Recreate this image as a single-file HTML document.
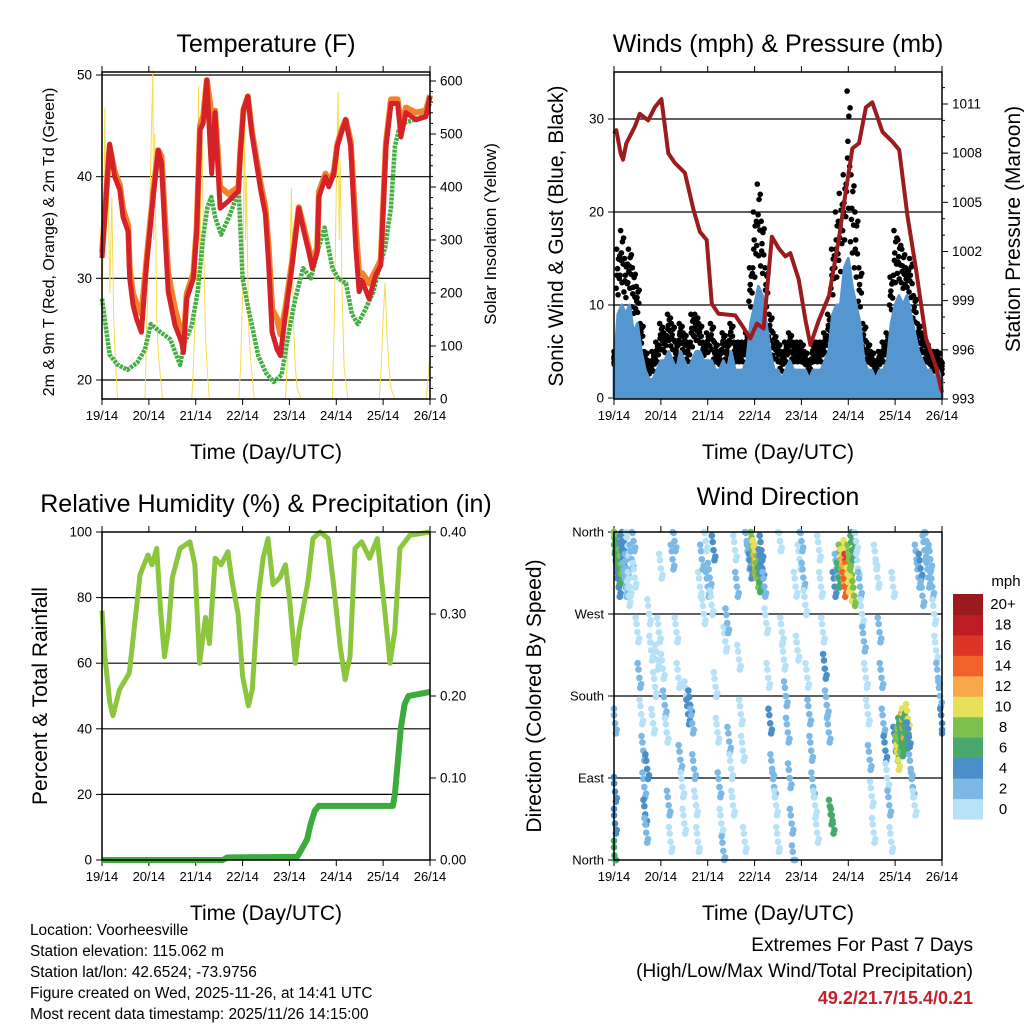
<!DOCTYPE html>
<html><head><meta charset="utf-8"><style>
body{margin:0;background:#fff}
svg{display:block;font-family:"Liberation Sans",sans-serif}
</style></head><body>
<svg id="s" width="1024" height="1024" viewBox="0 0 1024 1024" xmlns="http://www.w3.org/2000/svg">
<g id="g1"></g>
<g id="g2"></g>
<g id="g3"></g>
<g id="g4"></g>
<g id="txt" font-size="15.4" fill="#000">
<text x="30" y="935">Location: Voorheesville</text>
<text x="30" y="956">Station elevation: 115.062 m</text>
<text x="30" y="977">Station lat/lon: 42.6524; -73.9756</text>
<text x="30" y="998">Figure created on Wed, 2025-11-26, at 14:41 UTC</text>
<text x="30" y="1019">Most recent data timestamp: 2025/11/26 14:15:00</text>
<text x="973" y="951" text-anchor="end" font-size="19">Extremes For Past 7 Days</text>
<text x="973" y="977" text-anchor="end" font-size="19">(High/Low/Max Wind/Total Precipitation)</text>
<text x="973" y="1004" text-anchor="end" font-size="18" font-weight="bold" fill="#c8202a">49.2/21.7/15.4/0.21</text>
</g>
</svg>
<script>
// ---------- DATA ----------
const dayLabels=["19/14","20/14","21/14","22/14","23/14","24/14","25/14","26/14"];
const tempT=[0,3.9,6.5,9.1,10.8,13.4,14.2,15.9,17.7,20.2,22.8,26.2,28.8,30.5,32.2,33.9,37.4,40.8,41.7,43.4,46.8,48.5,50.2,51.9,53.7,55.4,56.2,57.9,60.5,64.8,69.9,70.8,72.5,74.7,76.8,81.1,83.7,85.4,87.1,89.7,91.4,93.9,97.4,100.8,103.4,105.9,107.7,110.2,111.1,114.5,116.2,118.8,120.5,123.1,124.8,127.4,130,131.7,133.4,136.8,140.2,142.8,145.4,148,151.4,153.1,155.7,160.8,165.9,168];
const tempRed=[32,43.2,40,38.7,36,34.6,30,27.4,26,24.7,31.3,38,42.6,41.3,34.6,28.7,25.4,23.7,22.7,28,30,34.6,44.6,45.3,49.5,42.9,40.3,46.3,36.9,37.6,38.6,42.3,46.6,47.9,44.2,38.9,36.3,31.3,24.7,23,22.4,26.3,31.3,36.9,34.6,32.6,31,32.6,38,40,39,40.3,43,44.6,45.6,43,33,28.7,29.7,28,30.3,31.3,42.9,47.2,47.2,43.9,46.3,45.6,45.9,47.9];
const tempOrange=[32.5,43,40.5,39.2,36.8,35.2,31,28.5,27.5,26.5,31.8,38.5,42.6,42,36,30.5,27,24.5,23.2,28.5,30.5,35,45,46,49.5,47.2,43,46.5,39,38.3,39,42.3,46.6,47.9,44.5,39.5,37,33,27,26,24.5,27,31.8,37,35,33,31.5,33,38.5,40.3,39.5,40.5,43.2,44.8,45.6,43.5,35,30.5,30.5,29.5,30.8,31.8,43.3,47.6,47.6,45,46.8,46.3,46.5,48];
const dewT=[0,3.9,8,13,18,22,25,30,35,40,42,46,49,52,54,56,58,61,65,70,72,75,80,84,88,92,95,99,103,107,111,114,118,121,125,128,131,135,139,142,145,148,150,152,155,160,165,168];
const dewV=[28,22.5,21.5,21,21.7,23,25.5,24.7,24,21.5,23.5,25.4,28.7,34.3,37,38,36,34.3,36,38.6,30,27,22.4,20.7,19.8,20.5,24,28,31,30,33,35,31,30,29.5,26.5,25.5,27,28.7,31,33,37,43,44.6,45.3,45.6,46,47.2];
const solarT=[0,1,1.5,2,3,4,5,6,7,8,22,23,24,25,26,26.5,27,28,29,31,46,47,48.5,49.5,50,51,52,53,54,55,70,71,72,73,73.5,74,75,76,78,94,95,96,97,98,99,100,102,118,119,120,121,121.5,122,123,124,126,142,143,144,145,146,147,148,150,166,167,168];
const solarV=[150,400,550,300,450,200,380,150,60,0,0,150,300,450,620,300,500,150,80,0,0,80,250,590,200,560,300,120,50,0,0,60,200,535,300,420,150,80,0,0,80,200,398,150,60,20,0,0,150,400,580,300,450,200,60,0,0,60,150,219,120,60,20,0,0,40,88];
const windMean=[3,9,10,9,10,7,8,5,3,2,2,3, 4,4,5,4,3,5,4,3,4,5,5,4, 4,4,3,3,4,3,5,3,3,3,4,8, 10,12,11,8,5,3,3,2,3,4,3,3, 3,3,2,3,3,3,4,5,9,10,10,14, 15,12,10,8,4,3,3,2,3,3,4,8, 10,11,10,11,9,7,5,4,3,3,2,3, 2];
const windGust=[5,16,18,15,16,14,12,8,5,4,5,6, 8,7,9,8,6,8,7,6,9,9,8,6, 7,8,6,5,7,6,8,6,6,6,7,14, 20,23,19,14,9,7,6,5,6,7,6,6, 6,5,4,6,6,6,7,9,16,20,22,24, 33,24,20,14,8,6,5,4,5,6,7,13, 18,17,16,14,15,11,8,7,6,5,5,5, 4];
const presT=[0,1.2,3.4,4.6,6.3,10.6,13.2,17.5,20.9,24.3,27.8,31.2,36.3,40.6,44,47.5,50.1,53.5,62.1,65.5,69.8,73.2,76.6,80.9,84.3,87.8,90.3,94.6,98.1,100.6,104.9,110.1,115.2,118.6,122.1,125.5,129,132.3,137.5,142.6,146.1,150.3,154.6,159.8,164.9,168];
const presV=[1009.2,1009.4,1008,1007.6,1008.6,1009.6,1010.4,1010,1010.8,1011.3,1008,1007.4,1006.8,1004.6,1003.2,1002.7,998.8,998.2,998.1,997.5,996.7,997.6,997.3,1002.9,1002.2,1001.7,1001.9,1000.3,997.8,996.3,997.8,999.3,1002.8,1005.6,1008.3,1008.6,1010.8,1011.1,1009.3,1008.7,1008.2,1004.2,1001,996.7,995,993.4];
const rhT=[0,1.5,4,5.6,9,12,14,19.5,23.5,25.6,28,30,32,34,36,40,45,47.6,50,53,55,58,61,64.5,66.6,69.7,72,75,77,80,82.5,85,87.6,91,94,96,99,101,105.5,108,111.7,115.8,119,122,124.5,127,129.6,133,137,141,145,147.5,150,152.6,157.7,168];
const rhV=[76,62,48,44,52,55,57,87,93,90,95,76,62,70,86,95,97,90,60,74,66,92,90,94,85,75,56,47,52,80,92,98,84,86,90,80,60,70,85,98,100,98,82,65,55,62,95,97,92,98,75,60,70,95,99,100];
const rainT=[0,62,64,100,102,105,107,109,111,149,150,151.5,153,155,157,168];
const rainV=[0,0,0.003,0.004,0.012,0.025,0.045,0.06,0.066,0.066,0.08,0.12,0.16,0.19,0.2,0.205];
const dirPts=[[0.3,355,8],[0.6,345,9],[1,330,7],[1.3,320,6],[1.6,335,7],[2,310,6],[2.5,300,5],[3,315,7],[3.4,325,8],[4,340,4],[4.5,330,4],[5,350,4],[5.5,310,3],[6,300,2],[6.5,320,2],[7,345,1],[7.5,290,1],[8,300,1],[9,330,2],[10,350,2],[10.5,310,1],[0.2,5,6],[0.5,150,3],[0.5,40,4],[0.5,75,5],
[12,250,1],[13,200,2],[14,160,1],[15,120,3],[15.5,80,3],[16,50,4],[16.5,30,3],[17,100,4],[18,270,1],[19,230,0],[20,150,1],[21,190,1],[22,220,0],[23,250,1],[24,320,1],[25,210,1],[26,170,2],[27,140,1],[28,60,2],[29,20,1],[30,330,2],[31,350,3],[32,250,1],[33,200,1],[34,110,2],[35,80,1],[36,40,1],[37,180,1],[38,160,4],[39,170,4],[40,150,3],[41,100,2],[42,60,1],[43,20,0],[44,300,1],[45,330,2],[46,270,1],[47,350,1],
[48,300,2],[49,310,3],[50,280,1],[51,340,4],[52,190,1],[53,140,1],[54,80,2],[55,40,1],[56,10,2],[57,240,1],[58,260,2],[59,130,2],[60,100,1],[61,60,1],[62,340,1],[63,300,2],[64,220,1],[65,160,1],[66,120,1],[67,20,1],[68,350,2],[69,330,3],[70,320,5],
[71,345,9],[71.5,325,8],[72,335,10],[72.5,320,12],[73,330,11],[73.5,310,9],[74,318,8],[74.5,305,7],[75,325,4],[75.5,340,4],[76,320,4],[77,300,3],[78,260,1],[79,200,1],[80,150,4],[81,100,2],[82,80,3],[83,60,1],[84,20,1],[85,350,1],[86,250,1],[87,220,1],[88,180,2],[89,140,3],[90,90,2],[91,40,3],[92,0,2],[93,300,1],[94,230,1],
[95,330,1],[96,350,3],[97,310,2],[98,280,1],[99,200,1],[100,160,3],[101,120,2],[102,80,3],[103,60,1],[104,30,1],[105,340,1],[106,300,1],[107,250,1],[108,210,4],[109,170,3],[110,140,2],[111,50,6],[112,40,7],[113,300,4],[114,320,3],[115,310,6],[116,330,8],[117,325,10],[117.5,315,12],[118,300,14],[118.5,335,11],[119,320,16],[119.5,310,15],[120,305,10],[120.5,330,9],[121,320,8],[121.5,295,10],[122,340,6],[122.5,350,7],[123,290,9],
[124,350,1],[125,320,1],[126,300,2],[127,270,1],[128,240,2],[129,200,1],[130,160,1],[131,110,2],[132,70,1],[133,30,1],[134,330,1],[135,310,0],[136,250,3],[137,200,2],[138,150,3],[139,120,4],[140,90,1],[141,60,2],[142,20,1],[143,300,1],[144,130,4],
[145,120,9],[145.5,110,10],[146,130,8],[146.5,140,7],[147,135,6],[147.5,125,6],[148,145,12],[148.5,150,10],[149,140,7],[149.5,130,6],[150,145,6],[150.5,155,10],[151,135,5],[152,100,2],[153,80,2],[154,60,1],[155,330,3],[156,310,3],[157,320,4],[158,290,2],[159,340,3],[160,350,3],[161,310,2],[162,330,3],[163,300,3],[164,270,1],[165,230,1],[166,200,2],[167,180,2],[168,150,4]];
const speedColors=["#b7e1f7","#7cb9e6","#4a8fc8","#49a96c","#7dc04c","#e6e05a","#f7a848","#f0622a","#dd3428","#bd1c24","#9a1a1e"];
const speedLabels=["0","2","4","6","8","10","12","14","16","18","20+"];

// ---------- HELPERS ----------
const NS="http://www.w3.org/2000/svg";
function mk(parent,tag,attrs,text){const e=document.createElementNS(NS,tag);for(const k in attrs)e.setAttribute(k,attrs[k]);if(text!==undefined)e.textContent=text;parent.appendChild(e);return e;}
function lin(d0,d1,r0,r1){return v=>r0+(v-d0)/(d1-d0)*(r1-r0);}
function pathOf(ts,vs,fx,fy){return ts.map((t,i)=>(i?"L":"M")+fx(t).toFixed(1)+","+fy(vs[i]).toFixed(1)).join("");}

function frame(g,L,T,R,B,title,tx,ty){
  const xs=lin(0,168,L,R);
  const t=mk(g,"text",{x:tx,y:ty,"text-anchor":"middle","font-size":25});t.textContent=title;
  
  
  for(let i=0;i<8;i++){const x=xs(i*24);
    mk(g,"line",{x1:x,y1:B,x2:x,y2:B+6,stroke:"#000","stroke-width":1});
    mk(g,"line",{x1:x,y1:T,x2:x,y2:T-6,stroke:"#000","stroke-width":1});
    const lb=mk(g,"text",{x:x,y:B+21,"text-anchor":"middle","font-size":13},dayLabels[i]);
    
    
  }
  const xt=mk(g,"text",{x:(L+R)/2,y:B+60,"text-anchor":"middle","font-size":21},"Time (Day/UTC)");
  
  
  return xs;
}
function box(g,L,T,R,B){const r=mk(g,"rect",{x:L,y:T,width:R-L,height:B-T,fill:"none",stroke:"#000","stroke-width":1.5});
  
  }
function hgrid(g,L,R,y){mk(g,"line",{x1:L,y1:y,x2:R,y2:y,stroke:"#000","stroke-width":1.2});}
function ytick(g,x,y,label,side,fs){
  const dir=side==="l"?-1:1;
  mk(g,"line",{x1:x,y1:y,x2:x+dir*6,y2:y,stroke:"#000"});
  const t=mk(g,"text",{x:x+dir*10,y:y+4.5,"text-anchor":side==="l"?"end":"start","font-size":fs||13.5},label);
  
  
}
function vtitle(g,x,y,label,fs,name){const t=mk(g,"text",{x:x,y:y,"text-anchor":"middle","font-size":fs,transform:`rotate(-90 ${x} ${y})`},label);
  
  }

// ---------- PANEL 1 ----------
(function(){
  const g=document.getElementById("g1");const L=102,T=72,R=430,B=399;
  const xs=frame(g,L,T,R,B,"Temperature (F)",266,52);
  const yT=lin(20,50,380,75), yS=lin(0,600,399,81);
  [20,30,40,50].forEach(v=>{hgrid(g,L,R,yT(v));ytick(g,L,yT(v),String(v),"l");});
  for(let v=0;v<=600;v+=100)ytick(g,R,yS(v),String(v),"r");
  for(let v=20;v<=600;v+=20)if(v%100)mk(g,"line",{x1:R,y1:yS(v),x2:R+3,y2:yS(v),stroke:"#000"});
  const s=mk(g,"path",{d:pathOf(solarT,solarV,xs,yS),fill:"none",stroke:"#f5dc50","stroke-width":1});
  
  
  const dw=mk(g,"path",{d:pathOf(dewT,dewV,xs,yT),fill:"none",stroke:"#44ad44","stroke-width":4.5,"stroke-dasharray":"3 1","stroke-linejoin":"round"});
  
  
  const o=mk(g,"path",{d:pathOf(tempT,tempOrange,xs,yT),fill:"none",stroke:"#f5822a","stroke-width":6,"stroke-linejoin":"round"});
  
  
  const r=mk(g,"path",{d:pathOf(tempT,tempRed,xs,yT),fill:"none",stroke:"#d42228","stroke-width":5,"stroke-linejoin":"round"});
  
  
  box(g,L,T,R,B);
  vtitle(g,54,242,"2m & 9m T (Red, Orange) & 2m Td (Green)",16,"y-axis-title-left");
  vtitle(g,496,234,"Solar Insolation (Yellow)",17,"y-axis-title-right");
})();

// ---------- PANEL 2 ----------
(function(){
  const g=document.getElementById("g2");const L=614,T=72,R=942,B=399;
  const xs=frame(g,L,T,R,B,"Winds (mph) & Pressure (mb)",778,52);
  const yW=lin(0,30,398,119), yP=lin(993,1011,399,104);
  [10,20,30].forEach(v=>hgrid(g,L,R,yW(v)));
  [0,10,20,30].forEach(v=>ytick(g,L,yW(v),String(v),"l"));
  for(let v=993;v<=1011;v+=3)ytick(g,R,yP(v),String(v),"r");
  for(let v=994;v<=1012;v++)if((v-993)%3)mk(g,"line",{x1:R,y1:yP(v),x2:R+3,y2:yP(v),stroke:"#000"});
  const fr=[1,0.85,0.7,0.55,0.4,0.9,0.6,0.3], off=[-0.6,0.3,-0.2,0.7,-0.9,0.9,-0.4,0.1];
  windGust.forEach((gv,i)=>{const t=i*2;fr.forEach((f,k)=>{
    const v=windMean[i]+(gv-windMean[i])*f; const tt=Math.min(168,Math.max(0,t+off[k]));
    const c=mk(g,"circle",{cx:xs(tt),cy:yW(v),r:2.8,fill:"#000"});
    
    
  });});
  const ts=windMean.map((v,i)=>i*2);
  let d=pathOf(ts,windMean,xs,yW)+`L${xs(168)},${yW(0)}L${xs(0)},${yW(0)}Z`;
  const a=mk(g,"path",{d:d,fill:"#5497d0",stroke:"#5497d0","stroke-width":3,"stroke-linejoin":"round"});
  
  
  const p=mk(g,"path",{d:pathOf(presT,presV,xs,yP),fill:"none",stroke:"#9b1b1e","stroke-width":4,"stroke-linejoin":"round"});
  
  
  box(g,L,T,R,B);
  vtitle(g,563,236,"Sonic Wind & Gust (Blue, Black)",21,"y-axis-title-left");
  vtitle(g,1020,229,"Station Pressure (Maroon)",21,"y-axis-title-right");
})();

// ---------- PANEL 3 ----------
(function(){
  const g=document.getElementById("g3");const L=102,T=532,R=430,B=860;
  const xs=frame(g,L,T,R,B,"Relative Humidity (%) & Precipitation (in)",266,512);
  const yH=lin(0,100,860,532), yR=lin(0,0.4,860,532);
  [20,40,60,80].forEach(v=>hgrid(g,L,R,yH(v)));
  [0,20,40,60,80,100].forEach(v=>ytick(g,L,yH(v),String(v),"l"));
  [0,0.1,0.2,0.3,0.4].forEach(v=>ytick(g,R,yR(v),v.toFixed(2),"r"));
  const h=mk(g,"path",{d:pathOf(rhT,rhV,xs,yH),fill:"none",stroke:"#8cc63f","stroke-width":5,"stroke-linejoin":"round"});
  
  
  const r=mk(g,"path",{d:pathOf(rainT,rainV,xs,yR),fill:"none",stroke:"#3caa3c","stroke-width":6,"stroke-linejoin":"round"});
  
  
  box(g,L,T,R,B);
  vtitle(g,47,696,"Percent & Total Rainfall",21,"y-axis-title-left");
})();

// ---------- PANEL 4 ----------
(function(){
  const g=document.getElementById("g4");const L=614,T=532,R=942,B=860;
  const xs=frame(g,L,T,R,B,"Wind Direction",778,505);
  const yD=lin(0,360,860,532);
  [90,180,270].forEach(v=>hgrid(g,L,R,yD(v)));
  const dl=["North","East","South","West","North"];
  [0,90,180,270,360].forEach((v,i)=>ytick(g,L,yD(v),dl[i],"l",13));
  const jt=[0,-0.45,0.45,-0.9,0.9], jd=[0,9,-11,16,-7];
  dirPts.forEach(p=>{const bin=Math.min(10,Math.floor(p[2]/2));
    jt.forEach((o,k)=>{
      const dd=Math.min(360,Math.max(0,p[1]+jd[k]));
      const c=mk(g,"circle",{cx:xs(Math.min(168,Math.max(0,p[0]+o))),cy:yD(dd),r:3.3,fill:speedColors[bin]});
      
      
    });
  });
  box(g,L,T,R,B);
  vtitle(g,541,696,"Direction (Colored By Speed)",21,"y-axis-title-left");
  const cb=mk(g,"g",{});
  
  
  const h=(819-594)/11;
  speedColors.forEach((c,i)=>{const y=819-(i+1)*h;
    const r=mk(cb,"rect",{x:953,y:y,width:30,height:h+0.5,fill:c});
    
    
    const t=mk(cb,"text",{x:1003,y:y+h/2+5,"text-anchor":"middle","font-size":15},speedLabels[i]);
    
    
  });
  const u=mk(cb,"text",{x:1006,y:586,"text-anchor":"middle","font-size":15},"mph");
  
  
})();
</script>
</body></html>
